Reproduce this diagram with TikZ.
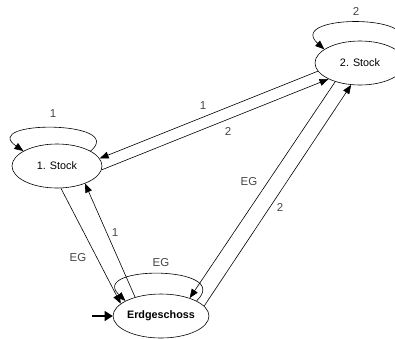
\documentclass[tikz,border=0pt]{standalone}
\usepackage{fontspec}
\setmainfont{Liberation Sans}
\usetikzlibrary{arrows.meta,shapes.geometric}
\begin{document}
\begin{tikzpicture}[x=1pt,y=1pt,
  state/.style={draw,line width=0.6pt,ellipse,minimum width=90pt,minimum height=44pt,inner sep=0pt,font=\fontsize{10.8}{12}\selectfont},
  edge/.style={draw,line width=0.6pt,-{Triangle[length=9pt,width=7pt]}},
  lbl/.style={font=\fontsize{11.5}{13}\selectfont,text=black!72,inner sep=0pt}]
\useasboundingbox (0,0) rectangle (395,-338);
\node[state] (s1) at (57,-166) {1. Stock};
\node[state] (s2) at (360,-63) {2. Stock};
\node[state,font=\bfseries\fontsize{10.8}{12}\selectfont] (eg) at (161,-316) {Erdgeschoss};
% loops
\draw[edge] (s1.24) .. controls +(37,31) and +(-45,31) .. (s1.156);
\draw[edge] (s2.21) .. controls +(40,36) and +(-40,36) .. (s2.159);
\draw[edge] (eg.23) .. controls +(38,36) and +(-38,36) .. (eg.157);
% s1 <-> s2
\draw[edge] (s2.191) -- (s1.10);
\draw[edge] (s1.-5) -- (s2.207);
% s1 <-> eg
\draw[edge] (s1.-80) -- (eg.163);
\draw[edge] (eg.144) -- (s1.-32);
% eg <-> s2
\draw[edge] (s2.217) -- (eg.32);
\draw[edge] (eg.13) -- (s2.248);
% start
\coordinate (start) at (92,-316);
\draw[line width=1.1pt,-{Triangle[length=8pt,width=10pt]}] (start) -- (eg.west);
% labels
\node[lbl] (l1) at (53,-114) {1};
\node[lbl] (l2) at (356,-11) {2};
\node[lbl] (l3) at (161,-263) {EG};
\node[lbl] (l4) at (203,-106) {1};
\node[lbl] (l5) at (228,-131) {2};
\node[lbl] (l6) at (249,-182) {EG};
\node[lbl] (l7) at (280,-207) {2};
\node[lbl] (l8) at (78,-258) {EG};
\node[lbl] (l9) at (115,-233) {1};
\end{tikzpicture}
\end{document}
